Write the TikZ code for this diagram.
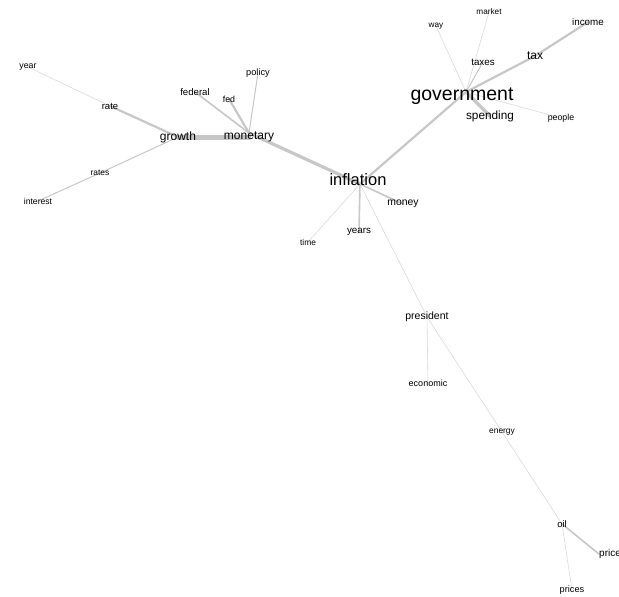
\documentclass[tikz,border=0pt]{standalone}
\usepackage{fontspec}
\setmainfont{Liberation Sans}
\usetikzlibrary{backgrounds}
\tikzset{
  word/.style={inner sep=0pt, text=black},
  fs/.style={font=\fontsize{#1}{#1}\selectfont},
  edge/.style={draw=black!22, line cap=round},
  ea/.style={edge, line width=0.6pt, draw=black!15},
  eb/.style={edge, line width=1pt},
  ec/.style={edge, line width=1.6pt},
  ed/.style={edge, line width=2.2pt},
  ee/.style={edge, line width=3.2pt},
  ef/.style={edge, line width=5pt},
}
\begin{document}
\begin{tikzpicture}[x=1pt,y=-1pt]
\useasboundingbox (0,0) rectangle (619,597);
% left cluster
\node[word,fs=8.8] (year) at (28,67) {year};
\node[word,fs=9.5] (rate) at (110,106) {rate};
\node[word,fs=12] (growth) at (178,137) {growth};
\node[word,fs=12] (monetary) at (249,137) {monetary};
\node[word,fs=9.6] (federal) at (195,92) {federal};
\node[word,fs=8.8] (fed) at (229,99) {fed};
\node[word,fs=9.2] (policy) at (258,73) {policy};
\node[word,fs=8.4] (rates) at (100,173) {rates};
\node[word,fs=8.6] (interest) at (38,201) {interest};
% centre
\node[word,fs=16.5] (inflation) at (358,180) {inflation};
\node[word,fs=10.4] (money) at (403,204) {money};
\node[word,fs=9.8] (years) at (359,232) {years};
\node[word,fs=8.4] (time) at (308,242) {time};
% government cluster
\node[word,fs=19.5] (government) at (462,96) {government};
\node[word,fs=11.8] (spending) at (490,116) {spending};
\node[word,fs=8.8] (people) at (561,118) {people};
\node[word,fs=9.8] (taxes) at (483,62) {taxes};
\node[word,fs=12] (tax) at (535,56) {tax};
\node[word,fs=9.8] (income) at (588,22) {income};
\node[word,fs=8.2] (way) at (436,26) {way};
\node[word,fs=8.2] (market) at (489,12) {market};
% lower chain
\node[word,fs=10.5] (president) at (427,317) {president};
\node[word,fs=9] (economic) at (428,383) {economic};
\node[word,fs=8.4] (energy) at (502,432) {energy};
\node[word,fs=9.5] (oil) at (562,524) {oil};
\node[word,fs=10,anchor=west] (price) at (599,554) {price};
\node[word,fs=9.2] (prices) at (572,590) {prices};
\coordinate (gc) at (466,92);
\coordinate (mc) at (249,133);
\coordinate (ic) at (360,184);
\begin{pgfonlayer}{background}
\draw[ea] (year.center) -- (rate.center);
\draw[ed] (rate.center) -- (growth.center);
\draw[ef] (growth.center) -- (monetary.center);
\draw[eb] (growth.center) -- (rates.center);
\draw[eb] (rates.center) -- (interest.center);
\draw[ec] (mc) -- (federal.center);
\draw[ed] (mc) -- (fed.center);
\draw[eb] (mc) -- (policy.center);
\draw[ee] (mc) -- (ic);
\draw[ed] (ic) -- (gc);
\draw[ec] (ic) -- (money.center);
\draw[ec] (ic) -- (years.center);
\draw[ea] (ic) -- (time.center);
\draw[ea] (ic) -- (president.center);
\draw[ea] (president.center) -- (energy.center);
\draw[ea] (president.center) -- (economic.center);
\draw[ea] (energy.center) -- (oil.center);
\draw[ec] (oil.center) -- (price.west);
\draw[ea, draw=red!10!black!15] (oil.center) -- (prices.center);
\draw[ea] (gc) -- (way.center);
\draw[ea] (gc) -- (market.center);
\draw[eb] (gc) -- (taxes.center);
\draw[ed] (gc) -- (tax.center);
\draw[ed] (tax.center) -- (income.center);
\draw[ee] (gc) -- (spending.center);
\draw[ea] (gc) -- (people.center);
\end{pgfonlayer}
\end{tikzpicture}
\end{document}
